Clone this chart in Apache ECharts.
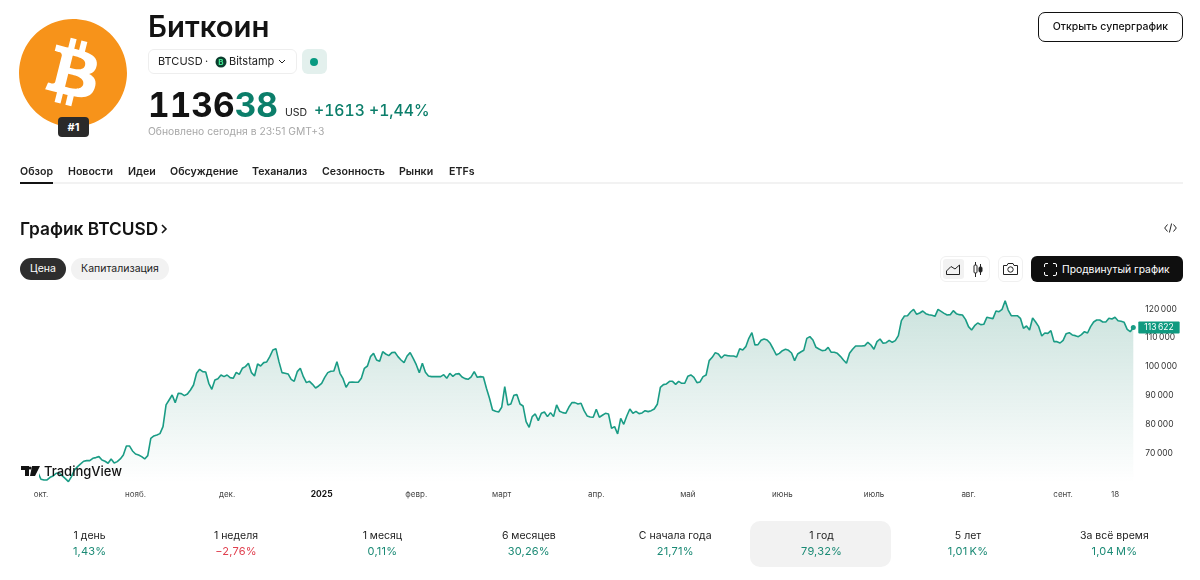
<!DOCTYPE html>
<html lang="ru">
<head>
<meta charset="utf-8">
<title>BTCUSD</title>
<script src="https://cdn.jsdelivr.net/npm/echarts@6/dist/echarts.min.js"></script>
<style>
html,body{margin:0;padding:0;background:#fff;}
body{width:1200px;height:580px;overflow:hidden;position:relative;font-family:Inter,"Noto Sans",sans-serif;color:#131313;}
#chart{position:absolute;left:0;top:0;width:1200px;height:580px;}
.abs{position:absolute;white-space:nowrap;}
.box{position:absolute;box-sizing:border-box;}
.tab{position:absolute;top:165px;font-size:10.6px;font-weight:600;line-height:14px;color:#222;white-space:nowrap;}
.stat{position:absolute;width:146px;text-align:center;white-space:nowrap;}
.stat .n{position:absolute;top:529px;left:0;width:100%;font-size:10.5px;line-height:14px;color:#222;}
.stat .v{position:absolute;top:544px;left:0;width:100%;font-size:11px;line-height:14px;letter-spacing:.2px;}
svg{position:absolute;overflow:visible;}
</style>
</head>
<body>
<div id="chart"></div>

<!-- шапка -->
<svg style="left:19px;top:19px" width="108" height="108" viewBox="0 0 24 24"><path fill="#f7931a" d="M23.638 14.904c-1.602 6.43-8.113 10.34-14.542 8.736C2.67 22.05-1.244 15.525.362 9.105 1.962 2.67 8.475-1.243 14.9.358c6.43 1.605 10.342 8.115 8.738 14.548v-.002z"/><path fill="#fff" d="M17.288 10.291c.24-1.59-.974-2.45-2.64-3.03l.54-2.153-1.315-.33-.525 2.107c-.345-.087-.705-.167-1.064-.25l.526-2.127-1.32-.33-.54 2.165c-.285-.067-.565-.132-.84-.2l-1.815-.45-.35 1.407s.975.225.955.236c.535.136.63.486.615.766l-1.477 5.92c-.075.166-.24.406-.614.314.015.02-.96-.24-.96-.24l-.66 1.51 1.71.426.93.242-.54 2.19 1.32.327.54-2.17c.36.1.705.19 1.05.273l-.51 2.154 1.32.33.545-2.19c2.24.427 3.93.257 4.64-1.774.57-1.637-.03-2.58-1.217-3.196.854-.193 1.5-.76 1.68-1.93h.01zm-3.01 4.22c-.404 1.64-3.157.75-4.05.53l.72-2.9c.896.23 3.757.67 3.33 2.37zm.41-4.24c-.37 1.49-2.662.735-3.405.55l.654-2.64c.744.18 3.137.524 2.75 2.084v.006z"/></svg>
<div class="box" style="left:58px;top:117px;width:31px;height:20px;background:#2a2a2a;border-radius:4px;color:#fff;font-size:11px;font-weight:700;line-height:20px;text-align:center;">#1</div>

<div class="abs" style="left:148px;top:9px;font-size:29.3px;font-weight:600;line-height:36px;">Биткоин</div>

<div class="box" style="left:148px;top:49px;width:149px;height:25px;border:1px solid #eee;border-radius:6px;"></div>
<div class="abs" style="left:158px;top:54px;font-size:11px;line-height:15px;color:#222;">BTCUSD</div>
<div class="abs" style="left:205px;top:54px;font-size:11px;line-height:15px;color:#222;">·</div>
<svg style="left:215px;top:56px" width="12" height="12"><circle cx="6" cy="6" r="5.5" fill="#0c3d2e"/><text x="6" y="9" text-anchor="middle" font-size="8" font-weight="700" fill="#3ee58f" font-family="Inter">B</text></svg>
<div class="abs" style="left:229px;top:54px;font-size:11px;line-height:15px;color:#222;">Bitstamp</div>
<svg style="left:278px;top:59px" width="8" height="5"><path d="M1 1 L4 4 L7 1" fill="none" stroke="#222" stroke-width="1"/></svg>
<div class="box" style="left:302px;top:49px;width:25px;height:25px;background:#e3f0ed;border-radius:6px;"></div>
<svg style="left:310px;top:58px" width="8" height="8"><circle cx="4" cy="4" r="4" fill="#089981"/></svg>

<div class="abs" style="left:148px;top:85px;font-size:33.5px;font-weight:700;line-height:40px;font-variant-numeric:tabular-nums;">1136<span style="color:#0b7e6a;">38</span></div>
<div class="abs" style="left:285px;top:106px;font-size:10.5px;line-height:14px;color:#222;">USD</div>
<div class="abs" style="left:314px;top:101px;font-size:15.7px;font-weight:500;line-height:20px;color:#0b7e6a;font-variant-numeric:tabular-nums;">+1613 +1,44%</div>
<div class="abs" style="left:148px;top:124px;font-size:10.3px;line-height:14px;color:#a8a8a8;">Обновлено сегодня в 23:51 GMT+3</div>

<div class="box" style="left:1038px;top:12px;width:145px;height:30px;border:1px solid #111;border-radius:7px;font-size:10.5px;font-weight:500;line-height:28px;text-align:center;">Открыть суперграфик</div>

<!-- вкладки -->
<div class="tab" style="left:20px;">Обзор</div>
<div class="tab" style="left:68px;">Новости</div>
<div class="tab" style="left:128px;">Идеи</div>
<div class="tab" style="left:170px;">Обсуждение</div>
<div class="tab" style="left:252px;">Теханализ</div>
<div class="tab" style="left:322px;">Сезонность</div>
<div class="tab" style="left:399px;">Рынки</div>
<div class="tab" style="left:449px;">ETFs</div>
<div class="box" style="left:20px;top:182px;width:1163px;height:2px;background:#f2f2f2;"></div>
<div class="box" style="left:20px;top:182px;width:33px;height:2px;background:#131313;"></div>

<div class="abs" style="left:20px;top:217px;font-size:17.3px;font-weight:600;line-height:24px;">График BTCUSD</div>
<svg style="left:161px;top:224px" width="6" height="10"><path d="M1 1 L5 5 L1 9" fill="none" stroke="#131313" stroke-width="1.6"/></svg>
<svg style="left:1164px;top:223px" width="13" height="10"><path d="M3.5 1.5 L0.7 5 L3.5 8.5 M9.5 1.5 L12.3 5 L9.5 8.5 M7.6 0.5 L5.4 9.5" fill="none" stroke="#222" stroke-width="1"/></svg>

<div class="box" style="left:20px;top:258px;width:46px;height:22px;background:#2e2e2e;border-radius:11px;color:#fff;font-size:10.5px;line-height:22px;text-align:center;">Цена</div>
<div class="box" style="left:71px;top:258px;width:98px;height:22px;background:#f2f2f2;border-radius:11px;color:#222;font-size:10.5px;line-height:22px;text-align:center;">Капитализация</div>

<!-- панель инструментов -->
<div class="box" style="left:940px;top:256px;width:50px;height:26px;border:1px solid #f0f0f0;border-radius:6px;"></div>
<div class="box" style="left:943px;top:259px;width:21px;height:20px;background:#f2f2f2;border-radius:3px;"></div>
<svg style="left:946px;top:264px" width="14" height="11"><path d="M.5 10.5 H13.5 V1 L9 5 L5 2.5 L.5 7 Z" fill="none" stroke="#222" stroke-width="1"/></svg>
<svg style="left:973px;top:262px" width="10" height="15"><path d="M2.5 0 V15 M7.5 2 V13" stroke="#222" stroke-width="1"/><rect x="1" y="3" width="3" height="8" rx="1" fill="#fff" stroke="#222"/><rect x="6" y="5" width="3" height="5" rx="1" fill="#222" stroke="#222"/></svg>
<div class="box" style="left:998px;top:256px;width:25px;height:26px;border:1px solid #f0f0f0;border-radius:6px;"></div>
<svg style="left:1003px;top:263px" width="15" height="12"><path d="M.5 2.5 H4 L5 .5 H10 L11 2.5 H14.5 V11.5 H.5 Z" fill="none" stroke="#222" stroke-width="1"/><circle cx="7.5" cy="6.5" r="2.7" fill="none" stroke="#222" stroke-width="1"/></svg>
<div class="box" style="left:1031px;top:256px;width:152px;height:26px;background:#0f0f0f;border-radius:6px;"></div>
<svg style="left:1044px;top:263px" width="13" height="13"><path d="M.5 4 V2 Q.5 .5 2 .5 H4 M9 .5 H11 Q12.5 .5 12.5 2 V4 M12.5 9 V11 Q12.5 12.5 11 12.5 H9 M4 12.5 H2 Q.5 12.5 .5 11 V9" fill="none" stroke="#fff" stroke-width="1"/></svg>
<div class="abs" style="left:1062px;top:262px;font-size:10.3px;font-weight:400;line-height:14px;color:#fff;">Продвинутый график</div>

<!-- логотип -->
<div class="box" style="left:19px;top:460px;width:20px;height:25px;background:#fff;"></div>
<svg style="left:21px;top:466px" width="19" height="10"><path d="M0 0 H8 V10 H4 V4 H0 Z M11 0 H19 L14 10 H9 Z" fill="#131313"/><circle cx="9" cy="2" r="1.6" fill="#131313"/></svg>
<div class="abs" style="left:44px;top:462px;font-size:13px;font-weight:500;line-height:18px;color:#131313;">TradingView</div>

<!-- изменения за период -->
<div class="box" style="left:750px;top:521px;width:141px;height:46px;background:#f2f2f2;border-radius:10px;"></div>
<div id="stats"></div>

<script>
// цена закрытия по дням, начиная с startDate
var startDate = Date.UTC(2024, 8, 24);
var dayMs = 24 * 3600 * 1000;
var prices = [
    64200,63200,65200,65900,65900,65700,63400,61080,60850,60850,
    61770,62240,63160,63160,62240,61310,60270,62000,64310,65460,
    66380,67310,67540,67540,68350,68580,68920,67770,67310,66620,
    68120,66730,67190,68120,69500,72610,72610,70880,69840,69500,
    68920,68120,69270,75260,76070,76420,76880,79300,86800,88520,
    90250,87600,90830,90710,90020,90600,91980,93710,97750,99130,
    98320,98210,94290,92210,95440,95900,97170,96590,97170,96250,
    96020,98090,97400,99480,100050,101200,97980,96830,100980,100280,
    101440,101670,103510,105820,106280,101780,97980,97750,97520,95670,
    94980,98320,99480,96590,94520,94980,93940,92670,93370,94290,
    96360,97980,98440,98550,101780,97750,95900,92900,94630,94750,
    94630,94630,96020,99480,100280,103510,104660,102360,101900,105240,
    104430,103860,104900,105010,103510,102360,101440,103740,104900,102940,
    100740,97980,101200,98090,96820,96590,96590,96590,96590,97280,
    96020,97750,96710,97520,97630,96480,95900,95670,96480,98320,
    96360,96590,96480,92560,89100,85060,84600,84370,85990,93130,
    86790,87140,90140,90370,87140,86450,81030,79070,82760,83680,
    81370,83910,84370,82760,84140,82760,86800,84600,84140,83910,
    85990,87600,87600,87140,87370,84830,82990,82640,82530,85290,
    82530,83220,83910,83680,78720,79300,76760,82180,80110,82990,
    85410,83910,84600,83800,84030,84830,84490,84830,85410,87020,
    92900,93830,94060,94980,94980,93940,94980,94290,94290,96710,
    97170,96360,94520,94750,96590,97170,102130,103280,104900,104430,
    103050,104090,103860,103740,103740,103400,106280,105820,106970,109850,
    111810,107550,107660,109160,109620,109280,108120,106160,104090,104660,
    105590,106050,105700,104780,102130,104430,105130,105700,109850,110430,
    109280,106740,106160,105590,105700,106740,105010,105010,104660,103630,
    102360,101210,104660,106050,107200,107200,107200,107320,108470,107550,
    106050,108700,109620,108120,108350,109160,108470,109050,110780,115960,
    117580,117690,118960,119880,118160,118620,119310,118390,118040,117810,
    117460,119880,119190,118500,117920,118040,119420,118390,118040,117920,
    116420,113890,112740,114230,115160,114580,114700,117120,116890,116660,
    119310,119080,119880,122880,119650,117690,117690,117690,116770,113310,
    114120,112740,116890,115500,113890,110660,111700,111580,112500,108700,
    108700,108240,109160,111470,111810,111010,110780,110430,111120,112160,
    111700,113890,115500,116200,116200,115500,115500,116770,116540,117120,
    115960,115730,115390,112970,112160,113622
];

var tickDates = ["2024-10-01","2024-11-01","2024-12-01","2025-01-01","2025-02-01","2025-03-01","2025-04-01","2025-05-01","2025-06-01","2025-07-01","2025-08-01","2025-09-01","2025-09-18"];
var tickLabels = ["окт.","нояб.","дек.","2025","февр.","март","апр.","май","июнь","июль","авг.","сент.","18"];
var yHidden = [60000,130000];

var periodNames = ["1 день","1 неделя","1 месяц","6 месяцев","С начала года","1 год","5 лет","За всё время"];
var periodValues = ["1,43%","−2,76%","0,11%","30,26%","21,71%","79,32%","1,01\u202fK%","1,04\u202fM%"];

var statsHtml = "";
for (var i = 0; i < periodNames.length; i++) {
    var col = periodValues[i].charAt(0) == "−" ? "#e0404f" : "#1b8a75";
    statsHtml += '<div class="stat" style="left:' + (16.6 + i * 146.4) + 'px;top:0"><div class="n">' + periodNames[i] +
        '</div><div class="v" style="color:' + col + '">' + periodValues[i] + '</div></div>';
}
document.getElementById("stats").innerHTML = statsHtml;

var dates = prices.map(function (p, i) {
    return new Date(startDate + i * dayMs).toISOString().slice(0, 10);
});

var myChart = echarts.init(document.getElementById("chart"));
myChart.setOption({
    animation: false,
    textStyle: {fontFamily: "Inter"},
    grid: {left: 19.6, top: 280.1, width: 1113.7, height: 202.3},
    xAxis: {
        type: "category",
        data: dates,
        boundaryGap: false,
        axisLine: {show: false},
        axisTick: {show: false},
        splitLine: {show: false},
        axisLabel: {
            margin: 8,
            fontSize: 8,
            color: "#444",
            interval: function (index, value) {
                return tickDates.indexOf(value) >= 0;
            },
            formatter: function (val) {
                var lbl = tickLabels[tickDates.indexOf(val)];
                return lbl == "2025" ? "{b|2025}" : lbl;
            },
            rich: {b: {fontSize: 8.5, fontWeight: 700, color: "#131313"}}
        }
    },
    yAxis: {
        type: "value",
        position: "right",
        min: 60000,
        max: 130000,
        interval: 10000,
        axisLine: {show: false},
        axisTick: {show: false},
        splitLine: {show: false},
        axisLabel: {
            margin: 12,
            fontSize: 8.5,
            color: "#333",
            formatter: function (val) {
                if (yHidden.indexOf(val) >= 0) return "";
                return Math.floor(val / 1000) + "\u2009000";
            }
        }
    },
    series: [{
        type: "line",
        data: prices,
        showSymbol: false,
        lineStyle: {color: "#1a9c85", width: 1.6},
        itemStyle: {color: "#1a9c85"},
        areaStyle: {
            color: new echarts.graphic.LinearGradient(0, 0, 0, 1, [
                {offset: 0, color: "rgba(8,120,95,0.3)"},
                {offset: 1, color: "rgba(8,120,95,0)"}
            ])
        },
        endLabel: {
            show: true,
            distance: 5,
            formatter: "113\u2009622",
            backgroundColor: "#0f9a80",
            color: "#fff",
            fontSize: 8.5,
            padding: [1.5, 6],
            borderRadius: 1
        },
        markPoint: {
            silent: true,
            symbol: "circle",
            symbolSize: 5,
            itemStyle: {color: "#1a9c85"},
            label: {show: false},
            data: [{coord: [dates[dates.length - 1], prices[prices.length - 1]]}]
        }
    }]
});
</script>
</body>
</html>
